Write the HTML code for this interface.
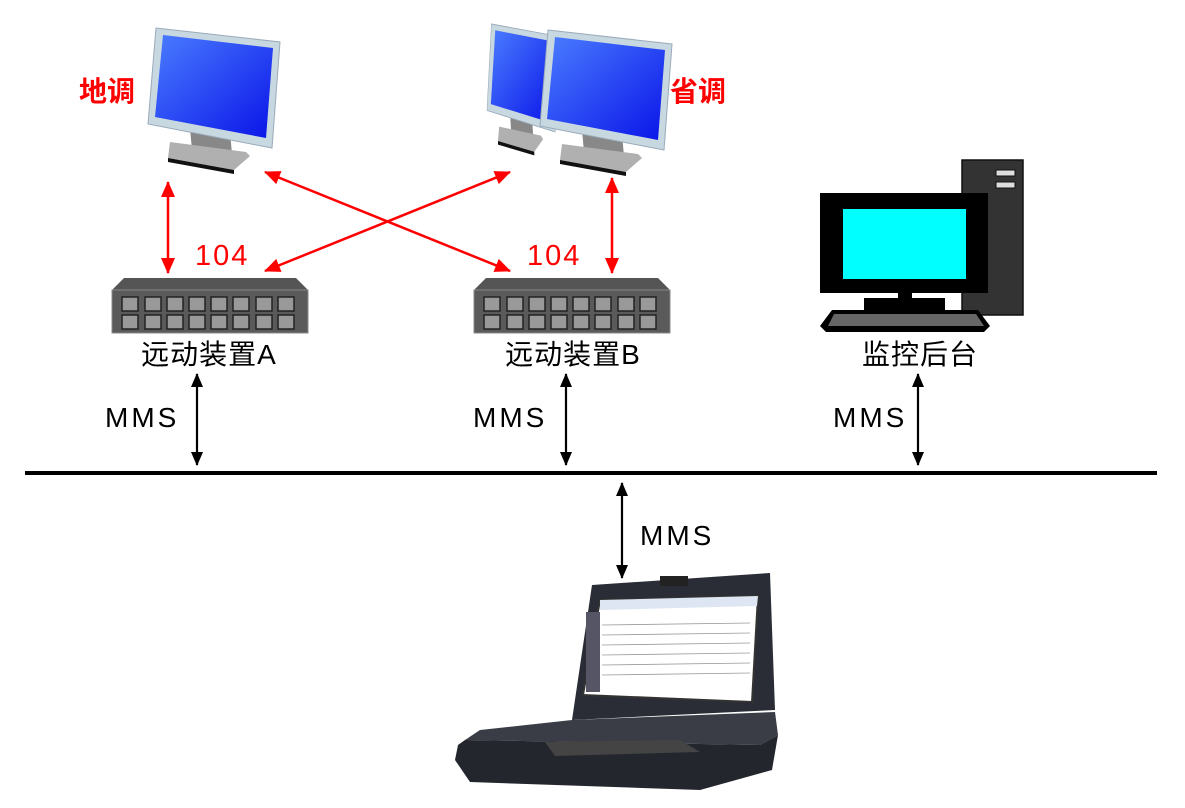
<!DOCTYPE html>
<html><head><meta charset="utf-8"><style>
body{margin:0;background:#fff;}
svg{display:block;font-family:"Liberation Sans","Noto Sans CJK SC",sans-serif;}
</style></head><body>
<svg width="1185" height="808" viewBox="0 0 1185 808" xmlns="http://www.w3.org/2000/svg">
<defs>
<marker id="arL" markerWidth="16" markerHeight="14" refX="15" refY="7" orient="auto-start-reverse" markerUnits="userSpaceOnUse" viewBox="0 0 16 14"><path d="M0,0 L16,7 L0,14 z" fill="#f00"/></marker>
<marker id="abL" markerWidth="14" markerHeight="12" refX="13" refY="6" orient="auto-start-reverse" markerUnits="userSpaceOnUse" viewBox="0 0 14 12"><path d="M0,0 L14,6 L0,12 z" fill="#000"/></marker>
<linearGradient id="scr" x1="0" y1="0" x2="1" y2="1"><stop offset="0" stop-color="#4a7cff"/><stop offset="1" stop-color="#0a14e8"/></linearGradient>
<g id="mon">
<polygon points="42,100 82,104 84,126 44,122" fill="#888"/>
<polygon points="22,114 98,124 102,128 86,142 20,130" fill="#b0b0b0"/>
<polygon points="20,130 86,142 86,146 20,134" fill="#111"/>
<polygon points="8,0 132,14 124,120 0,96" fill="#c8d8e0" stroke="#9ab" stroke-width="1"/>
<polygon points="15,7 125,20 118,110 7,89" fill="url(#scr)"/>
</g>
<g id="sw">
<polygon points="12,0 184,0 196,12 0,12" fill="#555"/>
<rect x="0" y="12" width="196" height="43" fill="#5a5a5a" stroke="#888"/>
</g>
<g id="ports" fill="#999" stroke="#222" stroke-width="1.5">
<rect x="10" y="19" width="16" height="14"/><rect x="33" y="19" width="16" height="14"/><rect x="55" y="19" width="16" height="14"/><rect x="77" y="19" width="16" height="14"/><rect x="99" y="19" width="16" height="14"/><rect x="121" y="19" width="16" height="14"/><rect x="144" y="19" width="16" height="14"/><rect x="166" y="19" width="16" height="14"/>
<rect x="10" y="37" width="16" height="14"/><rect x="33" y="37" width="16" height="14"/><rect x="55" y="37" width="16" height="14"/><rect x="77" y="37" width="16" height="14"/><rect x="99" y="37" width="16" height="14"/><rect x="121" y="37" width="16" height="14"/><rect x="144" y="37" width="16" height="14"/><rect x="166" y="37" width="16" height="14"/>
</g>
</defs>

<!-- monitors -->
<use href="#mon" x="148" y="28"/>
<g transform="translate(487,24) scale(0.55,0.9)"><use href="#mon"/></g>
<use href="#mon" x="540" y="30"/>

<text x="79" y="101" font-size="28" font-weight="bold" fill="#f00">地调</text>
<text x="670" y="101" font-size="28" font-weight="bold" fill="#f00">省调</text>

<!-- red arrows -->
<g stroke="#f00" stroke-width="2.5" fill="none">
<line x1="168" y1="182" x2="168" y2="273" marker-start="url(#arL)" marker-end="url(#arL)"/>
<line x1="612" y1="178" x2="612" y2="273" marker-start="url(#arL)" marker-end="url(#arL)"/>
<line x1="265" y1="172" x2="510" y2="271" marker-start="url(#arL)" marker-end="url(#arL)"/>
<line x1="510" y1="172" x2="265" y2="271" marker-start="url(#arL)" marker-end="url(#arL)"/>
</g>
<text x="195" y="265" font-size="29" letter-spacing="2" fill="#f00">104</text>
<text x="527" y="265" font-size="29" letter-spacing="2" fill="#f00">104</text>

<!-- switches -->
<g transform="translate(112,278)"><use href="#sw"/><use href="#ports"/></g>
<g transform="translate(474,278)"><use href="#sw"/><use href="#ports"/></g>

<text x="209" y="364" font-size="28" letter-spacing="1" text-anchor="middle">远动装置A</text>
<text x="573" y="364" font-size="28" letter-spacing="1" text-anchor="middle">远动装置B</text>

<!-- PC -->
<rect x="962" y="160" width="61" height="155" fill="#333" stroke="#111" stroke-width="1.5"/>
<rect x="996" y="170" width="19" height="6" fill="#ddd" stroke="#111"/>
<rect x="996" y="182" width="19" height="6" fill="#ddd" stroke="#111"/>
<rect x="820" y="193" width="168" height="100" fill="#000"/>
<rect x="843" y="209" width="123" height="70" fill="#0ff"/>
<rect x="898" y="292" width="14" height="8" fill="#000"/>
<rect x="864" y="298" width="81" height="12" fill="#000"/>
<polygon points="832,310 978,310 990,326 984,332 826,332 820,326" fill="#000"/>
<polygon points="834,314 976,314 984,326 828,326" fill="#666"/>
<text x="920" y="364" font-size="28" letter-spacing="1" text-anchor="middle">监控后台</text>

<!-- bus -->
<line x1="25" y1="473" x2="1157" y2="473" stroke="#000" stroke-width="4"/>
<g stroke="#000" stroke-width="2.2">
<line x1="197" y1="374" x2="197" y2="465" marker-start="url(#abL)" marker-end="url(#abL)"/>
<line x1="566" y1="374" x2="566" y2="465" marker-start="url(#abL)" marker-end="url(#abL)"/>
<line x1="918" y1="374" x2="918" y2="465" marker-start="url(#abL)" marker-end="url(#abL)"/>
<line x1="622" y1="483" x2="622" y2="578" marker-start="url(#abL)" marker-end="url(#abL)"/>
</g>
<text x="105" y="427" font-size="28" letter-spacing="3">MMS</text>
<text x="473" y="427" font-size="28" letter-spacing="3">MMS</text>
<text x="833" y="427" font-size="28" letter-spacing="3">MMS</text>
<text x="640" y="545" font-size="28" letter-spacing="3">MMS</text>

<!-- laptop -->
<polygon points="592,585 770,573 775,710 572,720" fill="#2a2d35"/>
<rect x="660" y="576" width="28" height="10" fill="#222"/>
<polygon points="600,600 758,596 752,702 583,695" fill="#fff" stroke="#333" stroke-width="2"/>
<polygon points="600,600 758,596 757,606 600,610" fill="#dde6f2"/>
<rect x="586" y="612" width="14" height="80" fill="#556"/>
<g stroke="#999" stroke-width="0.8">
<line x1="602" y1="625" x2="750" y2="623"/><line x1="602" y1="635" x2="750" y2="633"/><line x1="602" y1="645" x2="750" y2="643"/><line x1="602" y1="655" x2="750" y2="653"/><line x1="602" y1="665" x2="750" y2="663"/><line x1="602" y1="675" x2="750" y2="673"/>
</g>
<polygon points="572,720 775,712 778,735 760,745 465,740 480,730" fill="#3a3d45"/>
<polygon points="465,740 760,745 778,735 772,770 700,790 470,782 455,760 458,745" fill="#23262d"/>
<polygon points="545,742 680,740 700,752 555,756" fill="#444"/>
</svg>
</body></html>
